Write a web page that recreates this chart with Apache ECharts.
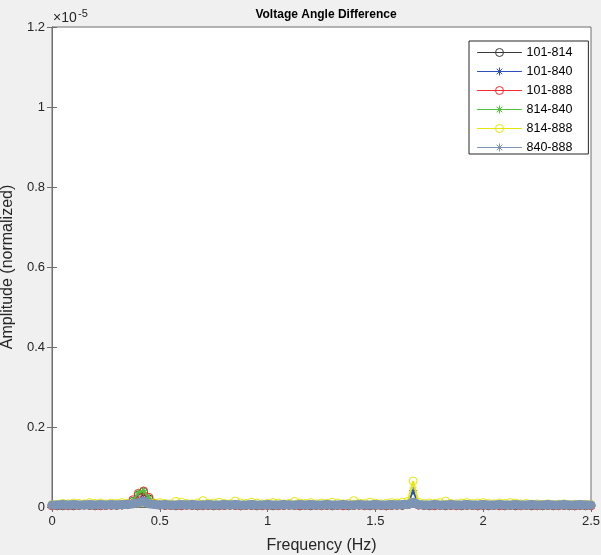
<!DOCTYPE html>
<html lang="en">
<head>
  <meta charset="UTF-8">
  <title>Voltage Angle Difference</title>
  <script src="https://cdn.jsdelivr.net/npm/echarts@6/dist/echarts.min.js"></script>
  <style>
    body { margin: 0; background: #f0f0f0; }
    #chart { width: 601px; height: 555px; }
  </style>
</head>
<body>
  <div id="chart"></div>
<script>
  // frequency grid (Hz)
  let freq = [
    0, 0.025, 0.05, 0.075, 0.1, 0.125, 0.15, 0.175, 0.2, 0.225,
    0.25, 0.275, 0.3, 0.325, 0.35, 0.375, 0.4, 0.425, 0.45, 0.475,
    0.5, 0.525, 0.55, 0.575, 0.6, 0.625, 0.65, 0.675, 0.7, 0.725,
    0.75, 0.775, 0.8, 0.825, 0.85, 0.875, 0.9, 0.925, 0.95, 0.975,
    1, 1.025, 1.05, 1.075, 1.1, 1.125, 1.15, 1.175, 1.2, 1.225,
    1.25, 1.275, 1.3, 1.325, 1.35, 1.375, 1.4, 1.425, 1.45, 1.475,
    1.5, 1.525, 1.55, 1.575, 1.6, 1.625, 1.65, 1.675, 1.7, 1.725,
    1.75, 1.775, 1.8, 1.825, 1.85, 1.875, 1.9, 1.925, 1.95, 1.975,
    2, 2.025, 2.05, 2.075, 2.1, 2.125, 2.15, 2.175, 2.2, 2.225,
    2.25, 2.275, 2.3, 2.325, 2.35, 2.375, 2.4, 2.425, 2.45, 2.475, 2.5
  ]

  // amplitudes in units of 1e-8 (axis shows x10^-5)
  let a101_814 = [
    4,3,3,4,3,4,5,4,3,4, 4,5,4,5,6,14,30,38,20,7, 5,4,4,3,4,5,4,3,4,4,
    3,4,4,5,4,3,4,4,3,4, 4,3,4,4,5,4,3,4,3,4, 4,4,3,4,4,3,4,5,4,3,
    4,4,3,4,5,4,6,12,5,4, 3,4,4,3,4,4,3,4,4,3, 4,3,4,4,3,4,3,4,4,3,
    4,3,4,3,4,4,3,3,4,3,4
  ]
  let a101_840 = [
    5,4,4,5,4,5,4,4,5,4, 4,5,5,6,6,9,18,22,12,6, 5,5,4,4,5,4,4,5,4,4,
    4,5,4,4,5,4,4,4,5,4, 4,4,5,4,4,5,4,4,4,5, 4,4,5,4,4,4,5,4,4,4,
    5,4,4,5,4,5,7,41,6,4, 4,5,4,4,4,5,4,4,4,5, 4,4,5,4,4,4,5,4,4,4,
    5,4,4,4,5,4,4,4,5,4,4
  ]
  let a101_888 = [
    3,4,4,3,4,4,5,4,4,3, 4,4,5,5,8,18,34,40,24,9, 5,4,4,4,3,4,4,4,3,4,
    4,3,4,4,4,3,4,4,4,3, 4,4,3,4,4,4,3,4,4,4, 3,4,4,4,3,4,4,4,3,4,
    4,4,3,4,4,5,6,10,5,4, 4,3,4,4,4,3,4,4,4,3, 4,4,4,3,4,4,4,3,4,4,
    3,4,4,4,3,4,4,3,4,4,3
  ]
  let a814_840 = [
    4,4,3,4,4,5,4,4,4,3, 4,5,5,5,7,16,36,41,22,8, 5,4,4,4,4,3,4,4,4,4,
    3,4,4,4,4,3,4,4,4,4, 3,4,4,4,4,3,4,4,4,4, 3,4,4,4,4,3,4,4,4,4,
    3,4,4,4,4,5,6,9,5,4, 4,4,3,4,4,4,4,3,4,4, 4,4,3,4,4,4,4,3,4,4,
    4,4,3,4,4,4,3,4,4,3,4
  ]
  let a814_888 = [
    6,7,9,8,10,9,8,11,9,10, 8,10,9,11,9,8,10,12,9,10, 11,9,8,14,12,9,8,10,16,9,
    10,12,9,8,15,10,9,12,10,8, 9,11,10,8,9,14,10,9,11,8, 10,9,12,10,8,9,16,10,9,12,
    10,8,9,11,10,12,14,65,12,9, 10,9,11,15,9,8,10,11,9,10, 11,9,8,10,9,11,10,8,9,7,
    8,7,8,6,7,8,6,7,6,7,6
  ]
  let a840_888 = [
    5,5,6,5,6,5,5,6,5,6, 5,6,5,6,6,8,11,14,8,6, 5,6,5,5,6,5,6,5,5,6,
    5,5,6,5,6,5,5,6,5,5, 6,5,5,6,5,5,6,5,6,5, 5,6,5,5,6,5,5,6,5,5,
    6,5,5,6,5,6,6,12,6,5, 5,6,5,5,6,5,5,6,5,5, 6,5,5,6,5,5,6,5,5,6,
    5,5,6,5,5,6,5,5,6,5,5
  ]

  let names = ['101-814', '101-840', '101-888', '814-840', '814-888', '840-888']
  let values = [a101_814, a101_840, a101_888, a814_840, a814_888, a840_888]
  let colors = ['#3a3a3a', '#2f4fbf', '#f52a2a', '#52c23c', '#e6e60a', '#7d94b4']
  let marks = ['o', '*', 'o', '*', 'o', '*']
  // the dense markers of the original merge into a band, a wide line stands in for them
  let widths = [2, 2, 2, 2, 2, 9]

  let star = 'path://M5 0L5 10M0 5L10 5M1.5 1.5L8.5 8.5M1.5 8.5L8.5 1.5'
  let axisColor = '#6e6e6e'
  let textColor = '#262626'
  let font = 'Liberation Sans'

  let series = names.map((n, k) => ({
    name: n,
    type: 'line',
    z: 2 + k,
    data: freq.map((f, i) => [f, values[k][i] / 1000]),
    symbol: marks[k] == 'o' ? 'circle' : star,
    symbolSize: 8,
    showAllSymbol: true,
    clip: false,
    lineStyle: { color: colors[k], width: widths[k], cap: 'round' },
    itemStyle: { color: 'rgba(0,0,0,0)', borderColor: colors[k], borderWidth: 1 },
    emphasis: { disabled: true }
  }))

  let myChart = echarts.init(document.getElementById('chart'))
  let option = {
    animation: false,
    backgroundColor: '#f0f0f0',
    title: {
      text: 'Voltage Angle Difference',
      left: 321, top: 4, textAlign: 'center',
      textStyle: { fontSize: 12, fontWeight: 'bold', color: '#000', fontFamily: font }
    },
    grid: {
      left: 52, right: 10, top: 27, bottom: 48,
      show: true, backgroundColor: '#fff', borderColor: axisColor, borderWidth: 1,
      outerBoundsMode: 'none'
    },
    legend: {
      orient: 'vertical',
      left: 469, top: 41,
      padding: [5, 16, 0, 8],
      itemWidth: 44, itemHeight: 10, itemGap: 6,
      backgroundColor: '#fff', borderColor: textColor, borderWidth: 1,
      itemStyle: { borderWidth: 1 },
      textStyle: { fontSize: 12.5, color: '#000', lineHeight: 12, fontFamily: font },
      data: names.map((n, k) => ({ name: n, lineStyle: { color: colors[k], width: 1 } }))
    },
    xAxis: [{
      type: 'value', min: 0, max: 2.5, interval: 0.5, position: 'bottom',
      axisLine: { show: true, lineStyle: { color: axisColor } },
      axisTick: { show: true, inside: true, length: 5, lineStyle: { color: axisColor } },
      axisLabel: { color: textColor, fontSize: 13, margin: 8, fontFamily: font },
      splitLine: { show: false },
      name: 'Frequency (Hz)', nameLocation: 'middle', nameGap: 31,
      nameTextStyle: { fontSize: 16, color: textColor, fontFamily: font }
    }, {
      type: 'value', min: 0, max: 2.5, interval: 0.5, position: 'top',
      axisLine: { show: true, lineStyle: { color: axisColor } },
      axisTick: { show: true, inside: true, length: 5, lineStyle: { color: axisColor } },
      axisLabel: { show: false },
      splitLine: { show: false }
    }],
    yAxis: [{
      type: 'value', min: 0, max: 1.2, interval: 0.2, position: 'left',
      axisLine: { show: true, lineStyle: { color: axisColor } },
      axisTick: { show: true, inside: true, length: 5, lineStyle: { color: axisColor } },
      axisLabel: { color: textColor, fontSize: 13, margin: 7, fontFamily: font },
      splitLine: { show: false },
      name: 'Amplitude (normalized)', nameLocation: 'middle', nameGap: 23,
      nameTextStyle: { fontSize: 16, color: textColor, fontFamily: font }
    }, {
      type: 'value', min: 0, max: 1.2, interval: 0.2, position: 'right',
      axisLine: { show: true, lineStyle: { color: axisColor } },
      axisTick: { show: true, inside: true, length: 5, lineStyle: { color: axisColor } },
      axisLabel: { show: false },
      splitLine: { show: false }
    }],
    graphic: [
      { type: 'text', left: 53, top: 11, style: { text: '×10', fontSize: 14, fill: textColor, fontFamily: font } },
      { type: 'text', left: 78, top: 8, style: { text: '-5', fontSize: 11, fill: textColor, fontFamily: font } }
    ],
    series: series
  }
  myChart.setOption(option)
</script>
</body>
</html>
